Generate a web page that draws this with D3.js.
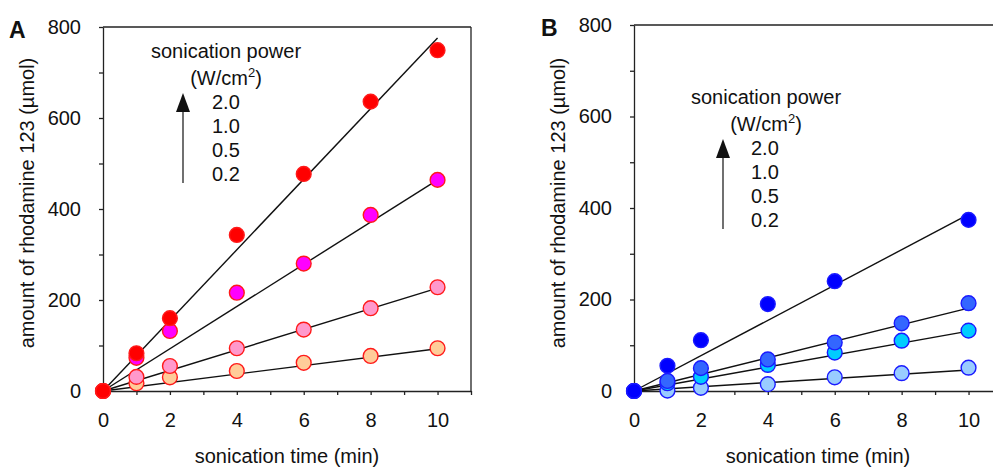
<!DOCTYPE html>
<html>
<head>
<meta charset="utf-8">
<script src="https://cdn.jsdelivr.net/npm/d3@7"></script>
<style>
  body { margin: 0; background: #fff; }
  svg { font-family: "Liberation Sans", Arial, sans-serif; }
</style>
</head>
<body>
<svg id="chart" width="993" height="468"></svg>
<script>
// sonication time (min)
var timesMin = [0, 1, 2, 4, 6, 8, 10];
var xTicks = [0, 1, 2, 3, 4, 5, 6, 7, 8, 9, 10, 11];
var yTicks = [0, 100, 200, 300, 400, 500, 600, 700, 800];
var powerLabels = ['2.0', '1.0', '0.5', '0.2'];

// panel A, amount of rhodamine 123 (umol), ordered 2.0, 1.0, 0.5, 0.2 W/cm2
var a20 = [0, 83, 160, 343, 477, 636, 749];
var a10 = [0, 73, 132, 216, 280, 387, 464];
var a05 = [0, 31, 55, 94, 135, 182, 228];
var a02 = [0, 17, 30, 44, 62, 77, 94];
var aFitAt10 = [776, 464, 226, 93];

// panel B
var b20 = [0, 55, 111, 190, 240, null, 374];
var b10 = [0, 22, 50, 69, 106, 148, 192];
var b05 = [0, 17, 31, 57, 84, 110, 132];
var b02 = [0, 1, 7, 15, 30, 39, 51];
var bFitAt10 = [386, 181, 131, 46];

var svg = d3.select('#chart');

function drawPanel(opt) {
    var x = d3.scaleLinear().domain([0, 11]).range([opt.left, opt.left + 368]);
    var y = d3.scaleLinear().domain([0, 800]).range([391, opt.top]);
    var g = svg.append('g');

    // axes
    var xAxis = d3.axisBottom(x).tickValues(xTicks).tickSize(4).tickSizeOuter(0).tickPadding(18)
        .tickFormat(function(d) { return (d % 2 == 0 && d <= 10) ? d : ''; });
    var yAxis = d3.axisLeft(y).tickValues(yTicks).tickSize(4).tickSizeOuter(0).tickPadding(18)
        .tickFormat(function(d) { return d % 200 == 0 ? d : ''; });

    var gx = g.append('g').attr('transform', 'translate(0,' + y(0) + ')').call(xAxis);
    var gy = g.append('g').attr('transform', 'translate(' + x(0) + ',0)').call(yAxis);
    [gx, gy].forEach(function(a) {
        a.selectAll('path, line').attr('stroke', '#222').attr('stroke-width', 1.3);
        a.selectAll('text').attr('font-size', 20).attr('fill', '#111')
            .attr('font-family', '"Liberation Sans", Arial, sans-serif');
    });

    // top and right border
    g.append('line').attr('x1', x(0)).attr('x2', x(11)).attr('y1', y(800)).attr('y2', y(800))
        .attr('stroke', '#222').attr('stroke-width', 1.3);
    g.append('line').attr('x1', x(11)).attr('x2', x(11)).attr('y1', y(800)).attr('y2', y(0))
        .attr('stroke', '#222').attr('stroke-width', 1.3);

    // fit lines
    var line = d3.line().x(function(d) { return x(d[0]); }).y(function(d) { return y(d[1]); });
    opt.fits.forEach(function(v) {
        g.append('path').attr('d', line([[0, 0], [10, v]]))
            .attr('fill', 'none').attr('stroke', '#111').attr('stroke-width', 1.4);
    });

    // points, lowest power first so the higher ones sit on top
    for (var s = opt.series.length - 1; s >= 0; s--) {
        var vals = opt.series[s];
        var pts = timesMin.map(function(t, i) { return [t, vals[i]]; })
            .filter(function(p) { return p[1] != null; });
        g.selectAll(null).data(pts).enter().append('circle')
            .attr('cx', function(d) { return x(d[0]); })
            .attr('cy', function(d) { return y(d[1]); })
            .attr('r', 7.4)
            .attr('fill', opt.colors[s])
            .attr('stroke', opt.stroke)
            .attr('stroke-width', 1.4);
    }

    // panel letter
    g.append('text').attr('x', opt.letterX).attr('y', opt.top + 11)
        .attr('font-size', 23).attr('font-weight', 'bold').attr('fill', '#111').text(opt.letter);

    // axis titles
    g.append('text').attr('x', (x(0) + x(11)) / 2).attr('y', 463)
        .attr('text-anchor', 'middle').attr('font-size', 20).attr('fill', '#111')
        .text('sonication time (min)');
    g.append('text')
        .attr('transform', 'translate(' + (x(0) - 69) + ',' + 203 + ') rotate(-90)')
        .attr('text-anchor', 'middle').attr('font-size', 20).attr('fill', '#111')
        .text('amount of rhodamine 123 (\u00b5mol)');

    // legend
    var lg = opt.legend;
    g.append('text').attr('x', lg.cx).attr('y', lg.y0).attr('text-anchor', 'middle')
        .attr('font-size', 20).attr('fill', '#111').text('sonication power');
    var unit = g.append('text').attr('x', lg.cx).attr('y', lg.y0 + 27).attr('text-anchor', 'middle')
        .attr('font-size', 20).attr('fill', '#111');
    unit.append('tspan').text('(W/cm');
    unit.append('tspan').attr('font-size', 13).attr('dy', -8).text('2');
    unit.append('tspan').attr('dy', 8).text(')');
    powerLabels.forEach(function(p, i) {
        g.append('text').attr('x', lg.numX).attr('y', lg.y0 + 51 + i * 24)
            .attr('font-size', 20).attr('fill', '#111').text(p);
    });
    g.append('line').attr('x1', lg.arrowX).attr('x2', lg.arrowX)
        .attr('y1', lg.y0 + 125).attr('y2', lg.y0 + 50)
        .attr('stroke', '#111').attr('stroke-width', 1.2);
    g.append('path')
        .attr('d', 'M' + lg.arrowX + ',' + (lg.y0 + 35) + 'L' + (lg.arrowX - 7) + ',' + (lg.y0 + 54) +
            'L' + (lg.arrowX + 7) + ',' + (lg.y0 + 54) + 'Z')
        .attr('fill', '#111');
}

drawPanel({
    left: 103, top: 27, letter: 'A', letterX: 9,
    series: [a20, a10, a05, a02], fits: aFitAt10,
    colors: ['#ff0000', '#ff00ff', '#ff99cc', '#ffcc99'], stroke: '#ff1a1a',
    legend: { cx: 226, y0: 58, numX: 212, arrowX: 183 }
});

drawPanel({
    left: 634, top: 25, letter: 'B', letterX: 541,
    series: [b20, b10, b05, b02], fits: bFitAt10,
    colors: ['#0000ff', '#3366ff', '#00ccff', '#99ccff'], stroke: '#1a1aff',
    legend: { cx: 766, y0: 104, numX: 751, arrowX: 723 }
});
</script>
</body>
</html>
